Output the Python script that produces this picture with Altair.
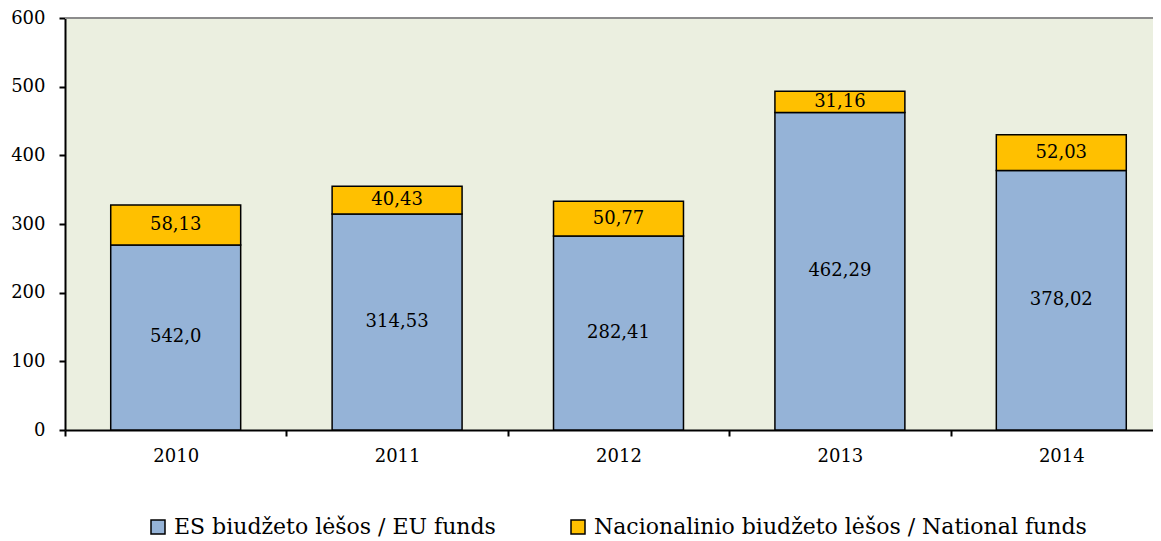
import altair as alt
import pandas as pd

years = ["2010", "2011", "2012", "2013", "2014"]
eu_values = [269.5, 314.53, 282.41, 462.29, 378.02]
eu_labels = ["542,0", "314,53", "282,41", "462,29", "378,02"]
nat_values = [58.13, 40.43, 50.77, 31.16, 52.03]
nat_labels = ["58,13", "40,43", "50,77", "31,16", "52,03"]
series = ["ES biudžeto lėšos / EU funds", "Nacionalinio biudžeto lėšos / National funds"]
colors = ["#95B3D7", "#FFC000"]

rows = []
for i, yr in enumerate(years):
    rows.append(dict(year=yr, series=series[0], value=eu_values[i], label=eu_labels[i], ord=0))
    rows.append(dict(year=yr, series=series[1], value=nat_values[i], label=nat_labels[i], ord=1))
df = pd.DataFrame(rows)

FONT = "DejaVu Serif"

xscale = alt.Scale(paddingInner=0, paddingOuter=0)
xenc = alt.X(
    "year:N",
    sort=years,
    scale=xscale,
    axis=alt.Axis(title=None, labelAngle=0, tickBand="extent", labelPadding=11),
)

base = alt.Chart(df)

bars = base.mark_bar(stroke="black", strokeWidth=1.5, width={"band": 0.587}).encode(
    x=xenc,
    y=alt.Y(
        "value:Q",
        stack="zero",
        scale=alt.Scale(domain=[0, 600], nice=False),
        axis=alt.Axis(title=None, values=[0, 100, 200, 300, 400, 500, 600], labelPadding=14, grid=False),
    ),
    color=alt.Color(
        "series:N",
        sort=series,
        scale=alt.Scale(domain=series, range=colors),
        legend=alt.Legend(
            title=None,
            orient="none",
            direction="horizontal",
            legendX=82,
            legendY=498,
            symbolType="square",
            symbolSize=196,
            symbolStrokeColor="black",
            symbolStrokeWidth=1.5,
            symbolOpacity=1,
            labelFont=FONT,
            labelFontSize=22,
            labelColor="black",
            labelLimit=700,
            columnPadding=71,
            labelOffset=5,
        ),
    ),
    order=alt.Order("ord:Q"),
)

texts = base.transform_stack(
    stack="value", groupby=["year"], as_=["y0", "y1"], sort=[alt.SortField("ord", order="ascending")]
).transform_calculate(mid="(datum.y0 + datum.y1) / 2").mark_text(
    font=FONT, fontSize=18, color="black"
).encode(
    x=alt.X("year:N", sort=years, scale=xscale),
    y=alt.Y("mid:Q"),
    text="label:N",
)

top_line = alt.Chart(pd.DataFrame({"v": [600]})).mark_rule(color="#8C8C8C", strokeWidth=2).encode(
    y=alt.Y("v:Q")
)

chart = (
    alt.layer(top_line, bars, texts)
    .properties(width=1107, height=412, autosize=alt.AutoSizeParams(type="none"),
                padding={"left": 57, "top": 10, "right": -19, "bottom": 108})
    .configure_view(fill="#EBEFE0", stroke=None)
    .configure_axis(
        labelFont=FONT,
        labelFontSize=18,
        labelColor="black",
        domainColor="black",
        domainWidth=2,
        tickColor="black",
        tickWidth=2,
        tickSize=6,
    )
)

chart.save("out.html", embed_options={"renderer": "svg", "actions": False})
